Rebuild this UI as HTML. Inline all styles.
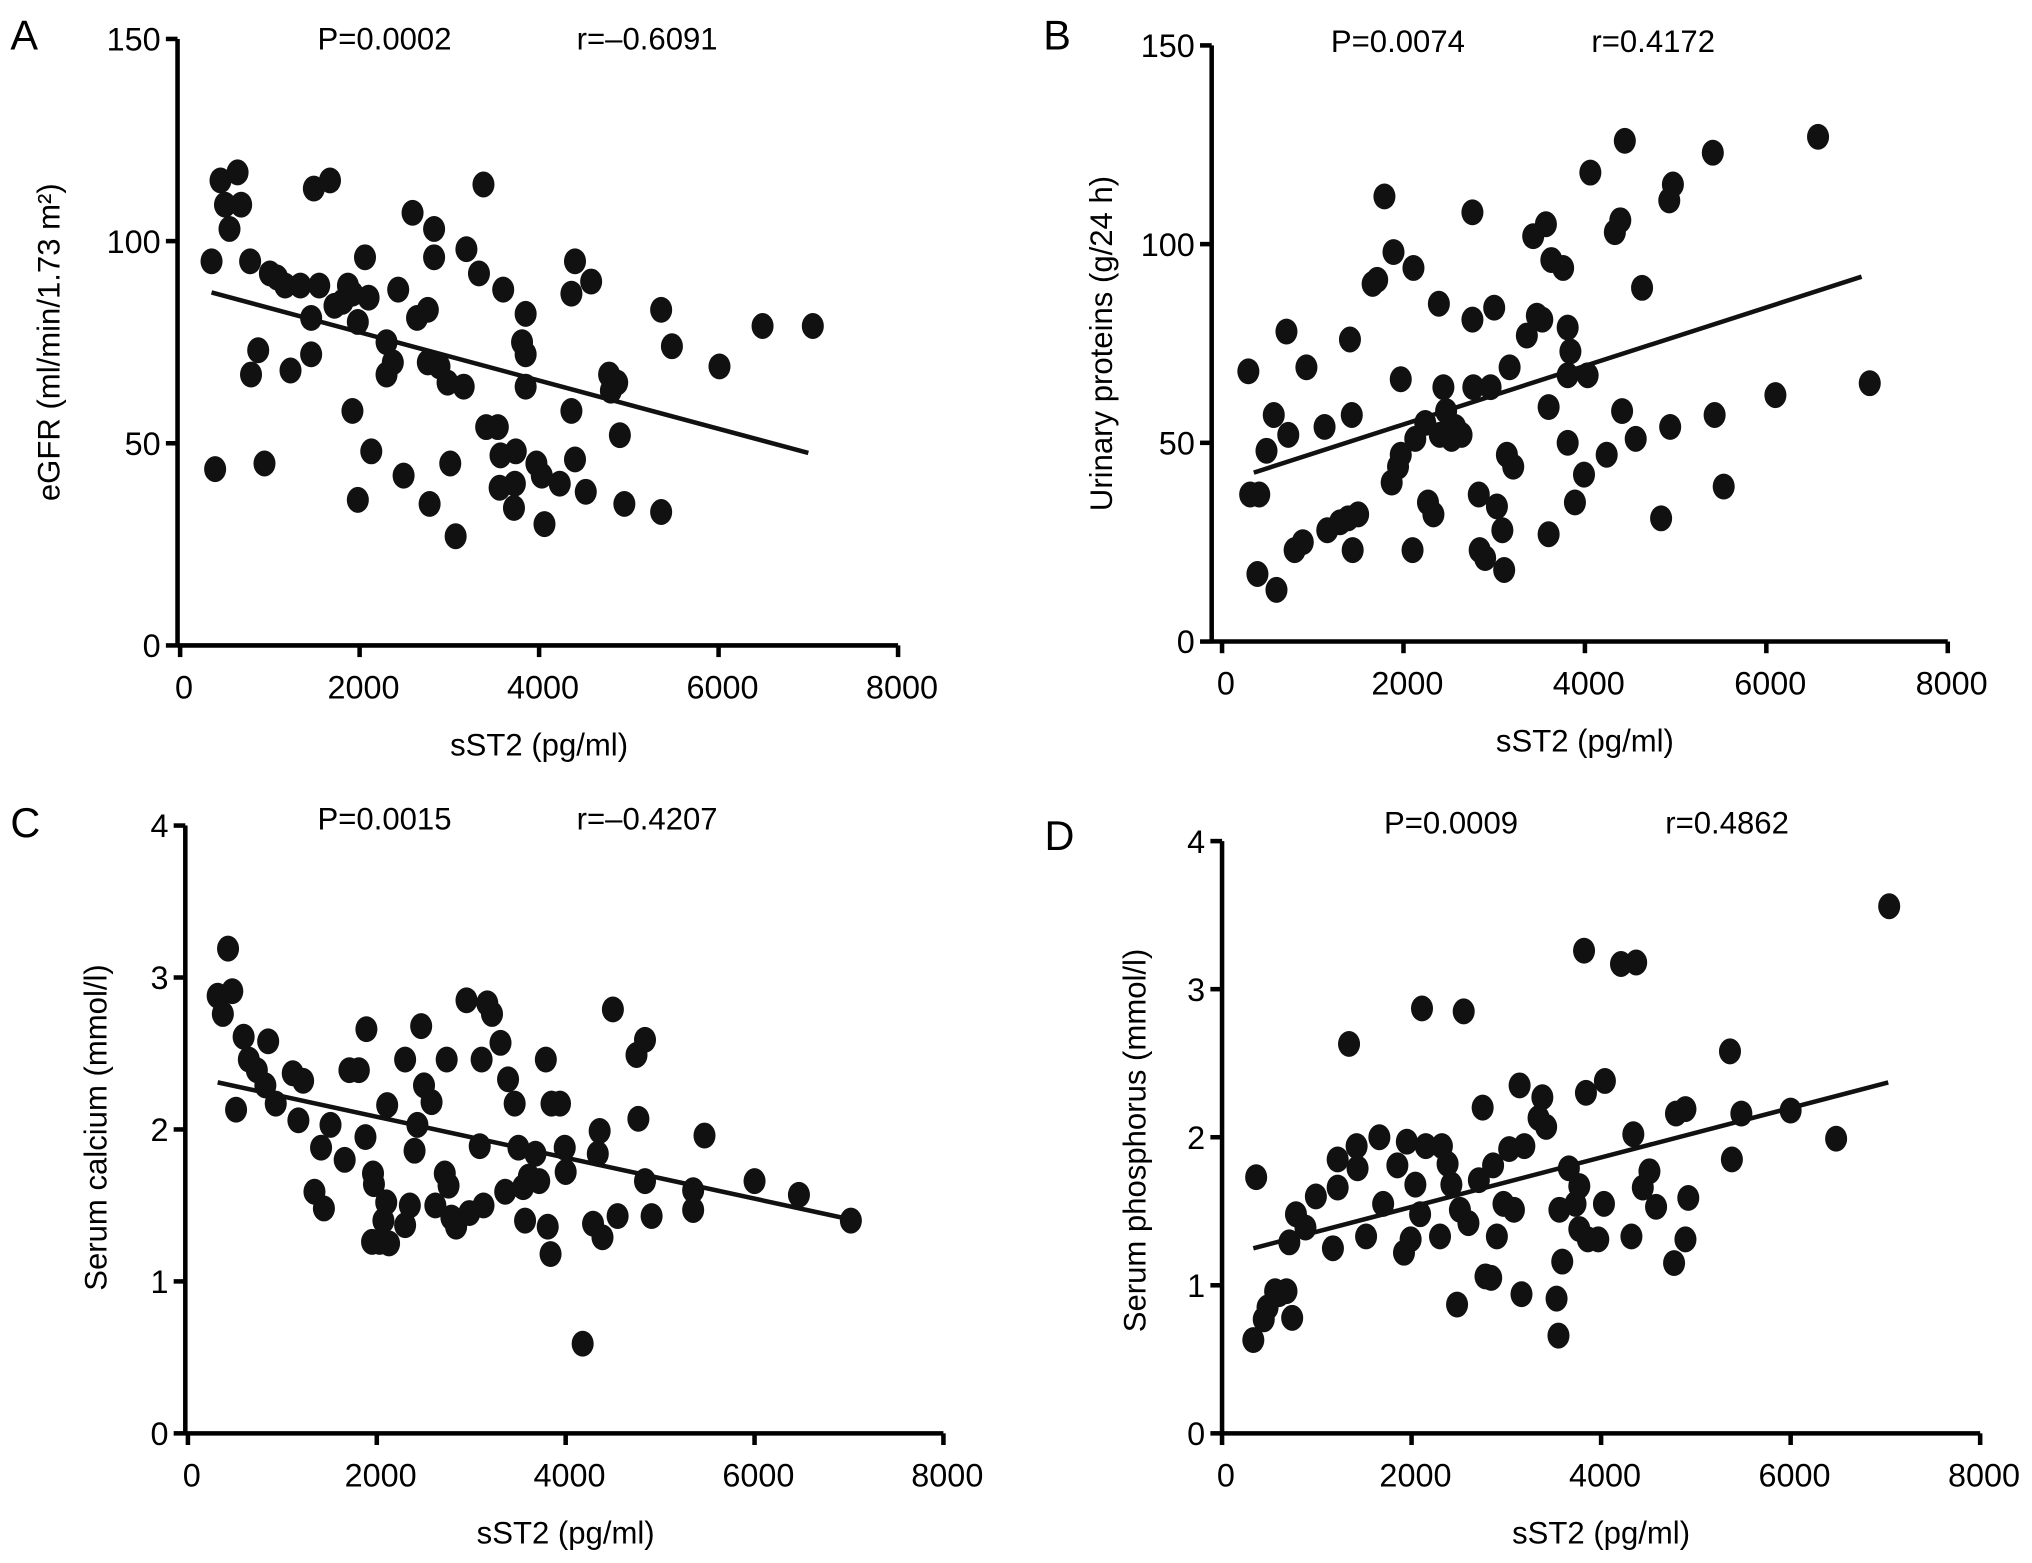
<!DOCTYPE html>
<html><head><meta charset="utf-8"><style>
html,body{margin:0;padding:0;background:#fff;}
svg{display:block;font-family:"Liberation Sans",Arial,sans-serif;}
</style></head><body>
<svg id="fig" width="2032" height="1563" viewBox="0 0 1568 1206" xmlns="http://www.w3.org/2000/svg"></svg>
<script>
// Panel A: eGFR
const aX=[350,390,450,500,640,680,550,780,870,790,940,1000,1080,1170,1230,1340,1490,1460,1460,1550,1670,1720,1810,1870,1920,1920,1980,1980,2060,2100,2130,2300,2370,2300,2430,2490,2590,2640,2760,2760,2780,2830,2830,2890,2980,3010,3070,3160,3190,3330,3380,3410,3540,3600,3570,3560,3730,3850,3810,3850,3850,3720,3740,3970,4030,4060,4230,4360,4360,4400,4400,4520,4580,4780,4800,4870,4900,4950,5360,5360,5480,6010,6490,7050];
const aY=[95,43.6,115,109,117,109,103,95,73,67,45,92,91,89,68,89,113,81,72,89,115,84,85,89,58,87,80,36,96,86,48,75,70,67,88,42,107,81,83,70,35,103,96,69,65,45,27,64,98,92,114,54,54,88,47,39,40,82,75,72,64,34,48,45,42,30,40,58,87,95,46,38,90,67,63,65,52,35,83,33,74,69,79,79];
const aLineX=[350,7000], aLineY=[87.3,47.6];
// Panel B: urinary proteins
const bX=[290,310,410,390,490,600,570,710,730,800,890,930,1130,1160,1300,1390,1410,1430,1440,1500,1660,1710,1790,1890,1870,1940,1970,1970,2100,2110,2130,2240,2270,2330,2390,2400,2440,2470,2530,2570,2640,2760,2770,2760,2830,2840,2900,2960,3000,3030,3090,3110,3140,3170,3210,3360,3430,3470,3530,3570,3600,3600,3630,3760,3810,3840,3810,3810,3890,3990,4030,4060,4240,4330,4390,4440,4410,4560,4630,4840,4930,4970,4940,5410,5430,5530,6100,6570,7140];
const bY=[68,37,37,17,48,13,57,78,52,23,25,69,54,28,30,31,76,57,23,32,90,91,112,98,40,44,66,47,23,94,51,55,35,32,85,52,64,58,51,54,52,81,64,108,37,23,21,64,84,34,28,18,47,69,44,77,102,82,81,105,59,27,96,94,79,73,67,50,35,42,67,118,47,103,106,126,58,51,89,31,111,115,54,123,57,39,62,127,65];
const bLineX=[350,7050], bLineY=[42.5,91.8];
// Panel C: serum calcium
const cX=[315,370,425,470,510,590,645,730,820,850,930,1110,1170,1220,1340,1410,1440,1510,1660,1710,1810,1880,1890,1950,1960,1970,2030,2070,2100,2110,2130,2300,2300,2350,2400,2430,2470,2500,2580,2620,2720,2740,2760,2790,2840,2950,2980,3090,3110,3130,3170,3220,3310,3360,3390,3460,3500,3550,3570,3610,3680,3720,3790,3810,3840,3850,3940,3990,4000,4180,4290,4340,4360,4390,4500,4550,4750,4770,4840,4840,4910,5350,5350,5470,6000,6470,7020];
const cY=[2.88,2.76,3.19,2.91,2.13,2.61,2.46,2.39,2.29,2.58,2.17,2.37,2.06,2.32,1.59,1.88,1.48,2.03,1.80,2.39,2.39,1.95,2.66,1.26,1.71,1.64,1.26,1.40,1.52,2.16,1.25,1.37,2.46,1.50,1.86,2.03,2.68,2.29,2.18,1.50,1.71,2.46,1.63,1.42,1.36,2.85,1.45,1.89,2.46,1.50,2.83,2.76,2.57,1.59,2.33,2.17,1.88,1.62,1.40,1.69,1.84,1.66,2.46,1.36,1.18,2.17,2.17,1.88,1.72,0.59,1.38,1.84,1.99,1.29,2.79,1.43,2.49,2.07,2.59,1.66,1.43,1.60,1.47,1.96,1.66,1.57,1.40];
const cLineX=[315,7000], cLineY=[2.31,1.41];
// Panel D: serum phosphorus
const dX=[330,360,440,480,560,600,680,740,710,780,880,990,1170,1220,1220,1340,1420,1430,1520,1660,1700,1850,1920,1950,1990,2040,2090,2110,2150,2300,2320,2380,2420,2480,2510,2550,2600,2710,2750,2780,2840,2860,2900,2970,3030,3080,3140,3160,3190,3340,3380,3420,3550,3530,3590,3560,3660,3730,3770,3770,3840,3820,3860,3970,4030,4040,4210,4370,4340,4320,4440,4510,4580,4770,4790,4890,4890,4920,5360,5380,5480,6000,6480,7040];
const dY=[0.63,1.73,0.77,0.85,0.96,0.94,0.96,0.78,1.29,1.48,1.39,1.60,1.25,1.85,1.66,2.63,1.94,1.79,1.33,2.00,1.55,1.81,1.22,1.97,1.31,1.68,1.48,2.87,1.94,1.33,1.94,1.82,1.68,0.87,1.51,2.85,1.42,1.71,2.20,1.06,1.05,1.81,1.33,1.55,1.92,1.51,2.35,0.94,1.94,2.13,2.27,2.07,0.66,0.91,1.16,1.51,1.79,1.55,1.38,1.67,2.30,3.26,1.31,1.31,1.55,2.38,3.17,3.18,2.02,1.33,1.66,1.77,1.53,1.15,2.16,2.19,1.31,1.59,2.58,1.85,2.16,2.18,1.99,3.56];
const dLineX=[330,7030], dLineY=[1.25,2.37];

const xTicks=[0,2000,4000,6000,8000];
const panels=[
 {id:'a',letter:'A',lx:8,ly:38,X:aX,Y:aY,LX:aLineX,LY:aLineY,ax:137,x0:139,x1:693,y0:498,y1:30,ymax:150,yTicks:[0,50,100,150],p:'P=0.0002',r:'r=\u20130.6091',px:245,rx:445,ty:38,ylab:'eGFR (ml/min/1.73 m\u00b2)',ylx:46,yly:264,xlab:'sST2 (pg/ml)'},
 {id:'b',letter:'B',lx:805,ly:38,X:bX,Y:bY,LX:bLineX,LY:bLineY,ax:935,x0:943,x1:1503,y0:495,y1:35,ymax:150,yTicks:[0,50,100,150],p:'P=0.0074',r:'r=0.4172',px:1027,rx:1228,ty:40,ylab:'Urinary proteins (g/24 h)',ylx:858,yly:265,xlab:'sST2 (pg/ml)'},
 {id:'c',letter:'C',lx:8,ly:646,X:cX,Y:cY,LX:cLineX,LY:cLineY,ax:143,x0:145,x1:728,y0:1106,y1:637,ymax:4,yTicks:[0,1,2,3,4],p:'P=0.0015',r:'r=\u20130.4207',px:245,rx:445,ty:640,ylab:'Serum calcium (mmol/l)',ylx:82,yly:870,xlab:'sST2 (pg/ml)'},
 {id:'d',letter:'D',lx:806,ly:656,X:dX,Y:dY,LX:dLineX,LY:dLineY,ax:943,x0:943,x1:1528,y0:1106,y1:649,ymax:4,yTicks:[0,1,2,3,4],p:'P=0.0009',r:'r=0.4862',px:1068,rx:1285,ty:643,ylab:'Serum phosphorus (mmol/l)',ylx:884,yly:880,xlab:'sST2 (pg/ml)'}
];
const NS='http://www.w3.org/2000/svg';
const svg=document.getElementById('fig');
function mk(tag,attrs,parent,txt){const e=document.createElementNS(NS,tag);for(const k in attrs)e.setAttribute(k,attrs[k]);if(txt!==undefined)e.textContent=txt;parent.appendChild(e);return e;}
panels.forEach(P=>{
 const g=mk('g',{},svg);
 
 
 const sx=v=>P.x0+(v/8000)*(P.x1-P.x0);
 const sy=v=>P.y0-(v/P.ymax)*(P.y0-P.y1);
 let t=mk('text',{x:P.lx,y:P.ly,'font-size':32},g,P.letter);
 
 
 t=mk('text',{x:P.px,y:P.ty,'font-size':24},g,P.p);
 
 
 t=mk('text',{x:P.rx,y:P.ty,'font-size':24},g,P.r);
 
 
 let l=mk('line',{x1:P.ax,y1:P.y1,x2:P.ax,y2:P.y0+1.5,stroke:'#000','stroke-width':3.5},g);
 
 
 l=mk('line',{x1:P.ax,y1:P.y0,x2:P.x1,y2:P.y0,stroke:'#000','stroke-width':3.5},g);
 
 
 P.yTicks.forEach(v=>{
  const y=sy(v);
  const tk=mk('line',{x1:P.ax-9,y1:y,x2:P.ax,y2:y,stroke:'#000','stroke-width':3.5},g);
  
  
  const tl=mk('text',{x:P.ax-13,y:y+9,'font-size':25,'text-anchor':'end'},g,String(v));
  
  
 });
 xTicks.forEach(v=>{
  const x=sx(v);
  const tk=mk('line',{x1:x,y1:P.y0,x2:x,y2:P.y0+9,stroke:'#000','stroke-width':3.5},g);
  
  
  const tl=mk('text',{x:x+3,y:P.y0+41,'font-size':25,'text-anchor':'middle'},g,String(v));
  
  
 });
 t=mk('text',{x:(P.x0+P.x1)/2,y:P.y0+85,'font-size':24,'text-anchor':'middle'},g,P.xlab);
 
 
 t=mk('text',{x:P.ylx,y:P.yly,'font-size':24,'text-anchor':'middle',transform:'rotate(-90 '+P.ylx+' '+P.yly+')'},g,P.ylab);
 
 
 P.X.forEach((xv,i)=>{
  const c=mk('ellipse',{cx:sx(xv),cy:sy(P.Y[i]),rx:8.5,ry:10,fill:'#111'},g);
  
  
 });
 l=mk('line',{x1:sx(P.LX[0]),y1:sy(P.LY[0]),x2:sx(P.LX[1]),y2:sy(P.LY[1]),stroke:'#111','stroke-width':3.5},g);
 
 
});
</script>
</body></html>
